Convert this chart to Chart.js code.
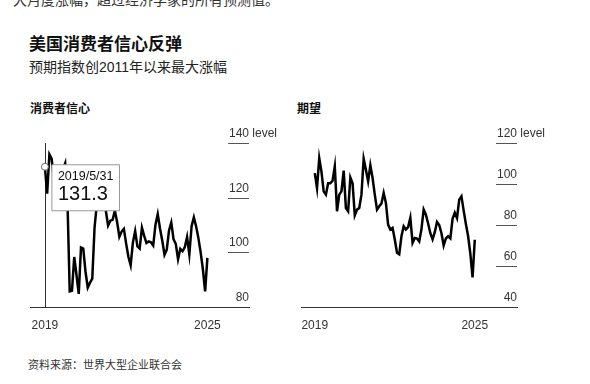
<!DOCTYPE html>
<html lang="zh">
<head>
<meta charset="utf-8">
<script src="https://cdn.jsdelivr.net/npm/chart.js@4.4.1/dist/chart.umd.min.js"></script>
<style>
  html, body { margin: 0; padding: 0; background: #fff; }
  body {
    width: 590px; height: 384px; position: relative; overflow: hidden;
    font-family: "Liberation Sans", "Noto Sans CJK SC", sans-serif; color: #111;
  }
  .t { position: absolute; white-space: nowrap; }
  .cut { left: 13px; top: -9px; font-size: 14px; line-height: 18px; color: #333; }
  .title { left: 29px; top: 35px; font-size: 17px; line-height: 20px; font-weight: bold; }
  .sub { left: 29px; top: 57px; font-size: 14px; line-height: 20px; color: #222; }
  .ptitle { top: 101px; font-size: 12px; line-height: 16px; font-weight: bold; }
  .src { left: 28px; top: 357px; font-size: 11px; line-height: 16px; color: #333; }
  canvas { position: absolute; }
</style>
</head>
<body>
  <div class="t cut">大月度涨幅，超过经济学家的所有预测值。</div>
  <div class="t title">美国消费者信心反弹</div>
  <div class="t sub">预期指数创2011年以来最大涨幅</div>
  <div class="t ptitle" style="left:30px">消费者信心</div>
  <div class="t ptitle" style="left:297px">期望</div>
  <canvas id="conf" width="260" height="220" style="left:20px; top:120px"></canvas>
  <canvas id="exp" width="270" height="220" style="left:290px; top:120px"></canvas>
  <div class="t src">资料来源：世界大型企业联合会</div>

<script>
// 月度数据 2019/5 - 2025/5
const confidence = [
  131.3, 121.5, 135.8, 134.2, 126.3, 126.1, 126.8, 128.2,
  130.4, 132.6, 118.8, 85.7, 85.9, 98.3, 91.7, 84.8, 101.8, 101.4, 92.9, 87.1,
  88.9, 90.4, 109.0, 117.5, 120.0, 128.9, 125.1, 115.2, 109.8, 111.6, 111.9, 115.2,
  111.1, 105.7, 107.6, 108.6, 103.2, 98.4, 95.3, 103.6, 107.8, 102.2, 101.4, 109.0,
  106.0, 103.4, 104.0, 103.7, 102.5, 110.1, 114.0, 108.7, 104.3, 99.1, 101.0, 108.0,
  110.9, 104.8, 103.1, 97.5, 101.3, 100.4, 101.9, 105.6, 99.2, 109.6, 112.8, 109.5,
  105.3, 100.1, 93.9, 85.7, 98.0
];
const expectations = [
  105.3, 98.0, 112.6, 106.0, 96.4, 94.8, 100.4, 100.4,
  101.6, 108.6, 86.7, 94.8, 96.4, 106.5, 88.3, 86.7, 103.2, 100.4, 84.7, 87.5,
  88.3, 94.8, 112.3, 107.0, 101.3, 109.1, 103.0, 94.8, 87.5, 89.1, 90.5, 95.6,
  90.7, 80.2, 77.8, 78.6, 72.9, 66.5, 65.7, 74.5, 79.4, 77.8, 79.0, 83.5,
  71.3, 73.7, 73.4, 72.0, 78.0, 87.5, 85.0, 80.7, 76.0, 73.0, 76.5, 81.5,
  80.0, 76.0, 70.0, 73.5, 74.5, 73.5, 83.0, 86.0, 83.4, 92.4, 94.0, 87.0,
  80.5, 74.5, 66.0, 54.4, 72.8
];
const xTickPos = [0, 72];
const xTickLabels = ['2019', '2025'];
const confTicks = [80, 100, 120, 140];
const expTicks = [40, 60, 80, 100, 120];
const hoverIndex = 0;
const hoverDate = '2019/5/31';

const FONT = '"Liberation Sans", "Noto Sans CJK SC", sans-serif';

// 右侧刻度：短横线 + 上方数字
const rightTicks = {
  id: 'rightTicks',
  afterDraw(chart, args, opts) {
    const { ctx, chartArea, scales: { y } } = chart;
    const r = chartArea.right;
    ctx.save();
    ctx.font = '12px ' + FONT;
    ctx.fillStyle = '#333';
    ctx.strokeStyle = '#555';
    ctx.lineWidth = 1;
    opts.values.forEach((v, i) => {
      const py = Math.round(y.getPixelForValue(v)) + 0.5;
      if (v !== y.min) {
        ctx.beginPath();
        ctx.moveTo(r - 21, py);
        ctx.lineTo(r, py);
        ctx.stroke();
      }
      ctx.textAlign = 'right';
      ctx.fillText(String(v), r, py - 7);
      if (i === opts.values.length - 1) {
        ctx.textAlign = 'left';
        ctx.fillText(' level', r, py - 7);
      }
    });
    ctx.restore();
  }
};

// 悬停竖线
const crosshair = {
  id: 'crosshair',
  beforeDatasetsDraw(chart) {
    const act = chart.getActiveElements();
    if (!act.length) return;
    const { ctx, chartArea } = chart;
    const x = Math.round(act[0].element.x) + 0.5;
    ctx.save();
    ctx.strokeStyle = '#333';
    ctx.lineWidth = 1;
    ctx.beginPath();
    ctx.moveTo(x, chartArea.top);
    ctx.lineTo(x, chartArea.bottom);
    ctx.stroke();
    ctx.restore();
  }
};

Chart.Tooltip.positioners.besidePoint = function (elements) {
  if (!elements.length) return false;
  const p = elements[0].element;
  return { x: p.x + 7, y: p.y - 2, xAlign: 'left', yAlign: 'top' };
};

function makeChart(id, values, yMin, yMax, xMin, xMax, ticks, pad) {
  return new Chart(document.getElementById(id), {
    type: 'line',
    data: {
      datasets: [{
        data: values.map((v, i) => ({ x: i, y: v })),
        borderColor: '#000',
        borderWidth: 2.5,
        pointRadius: 0,
        pointHoverRadius: 3.5,
        pointHoverBackgroundColor: '#fff',
        pointHoverBorderColor: '#666',
        pointHoverBorderWidth: 1,
        tension: 0
      }]
    },
    options: {
      responsive: false,
      animation: false,
      events: [],
      layout: { padding: pad },
      scales: {
        x: {
          type: 'linear',
          min: xMin,
          max: xMax,
          grid: { display: false, drawTicks: false },
          border: { display: true, color: '#333', width: 1 },
          afterBuildTicks: s => { s.ticks = xTickPos.map(v => ({ value: v })); },
          afterFit: s => { s.height = 30; },
          ticks: {
            padding: 11,
            color: '#333',
            autoSkip: false,
            maxRotation: 0,
            font: { family: FONT, size: 12 },
            callback: v => xTickLabels[xTickPos.indexOf(v)] ?? ''
          }
        },
        y: { display: false, min: yMin, max: yMax }
      },
      plugins: {
        legend: { display: false },
        rightTicks: { values: ticks },
        tooltip: {
          enabled: true,
          position: 'besidePoint',
          xAlign: 'left',
          yAlign: 'top',
          backgroundColor: '#fff',
          borderColor: '#999',
          borderWidth: 1,
          cornerRadius: 0,
          caretSize: 0,
          caretPadding: 0,
          displayColors: false,
          padding: { top: 5, bottom: 5, left: 6, right: 6 },
          titleColor: '#111',
          bodyColor: '#111',
          titleFont: { family: FONT, size: 12.5, weight: 'normal', lineHeight: '14px' },
          bodyFont: { family: FONT, size: 20, lineHeight: '22px' },
          titleMarginBottom: 0,
          callbacks: {
            title: () => hoverDate,
            label: c => c.raw.y.toFixed(1)
          }
        }
      }
    },
    plugins: [rightTicks, crosshair]
  });
}

const confChart = makeChart('conf', confidence, 80, 140, -6.585, 90.44, confTicks,
  { left: 8, right: 31, top: 23, bottom: 3 });
const expChart = makeChart('exp', expectations, 40, 120, -6.18, 91.0, expTicks,
  { left: 7, right: 43, top: 23, bottom: 3 });
expChart.options.plugins.tooltip.enabled = false;
expChart.update();

// 左图显示 2019/5/31 的悬停提示
const active = [{ datasetIndex: 0, index: hoverIndex }];
confChart.setActiveElements(active);
const pt = confChart.getDatasetMeta(0).data[hoverIndex];
confChart.tooltip.setActiveElements(active, { x: pt.x, y: pt.y });
confChart.update();
</script>
</body>
</html>
